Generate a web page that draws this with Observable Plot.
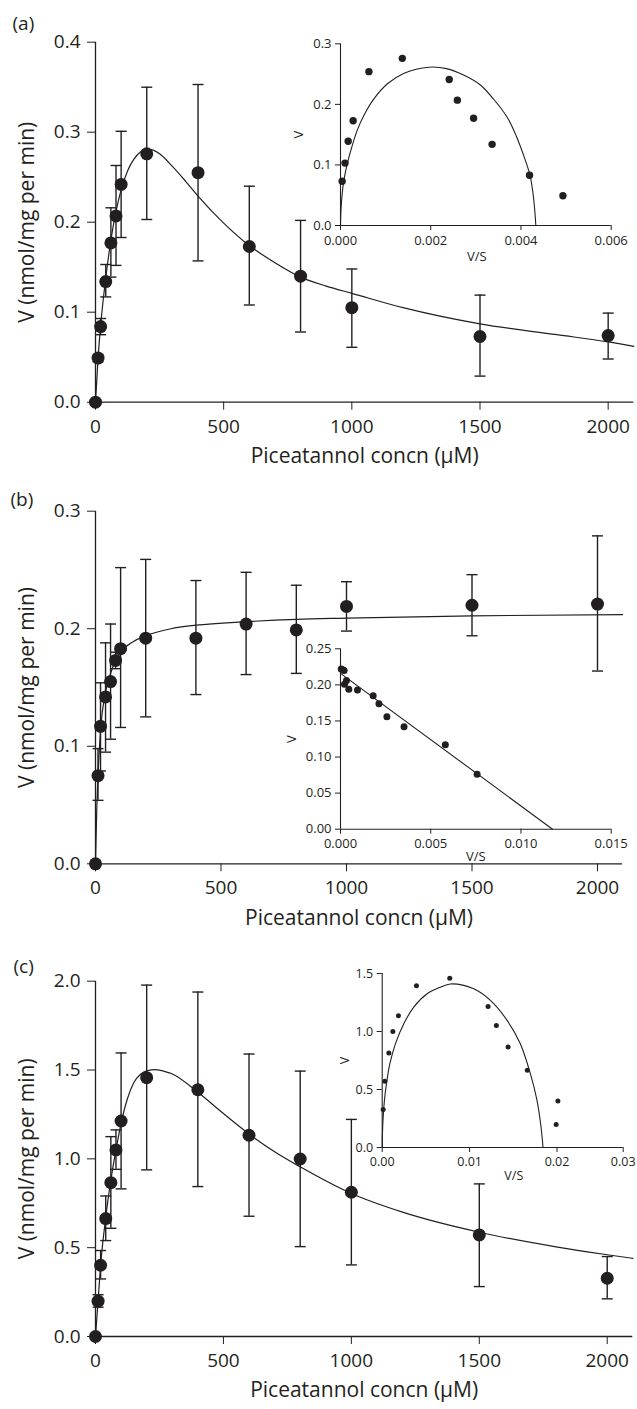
<!DOCTYPE html>
<html><head><meta charset="utf-8">
<script src="https://cdn.jsdelivr.net/npm/d3@7"></script>
<script src="https://cdn.jsdelivr.net/npm/@observablehq/plot@0.6"></script>
<style>
html,body{margin:0;padding:0;background:#fff;}
#root{position:relative;width:637px;height:1409px;overflow:hidden;}
#root > svg{position:absolute;left:0;background:transparent !important;}
</style></head><body><div id="root"></div>
<script>
// ---------- data ----------
const xTicksMain = [0, 500, 1000, 1500, 2000];
const xLabel = "Piceatannol concn (μM)";
const yLabel = "V (nmol/mg per min)";
const panelTags = ["(a)", "(b)", "(c)"];

const conc = [0, 10, 20, 40, 60, 80, 100, 200, 400, 600, 800, 1000, 1500, 2000];

// panel (a)
const vA  = [0, 0.049, 0.084, 0.134, 0.177, 0.207, 0.242, 0.276, 0.255, 0.173, 0.140, 0.105, 0.073, 0.074];
const loA = [null, 0.045, 0.075, 0.117, 0.139, 0.152, 0.183, 0.203, 0.157, 0.108, 0.078, 0.061, 0.029, 0.048];
const hiA = [null, 0.053, 0.093, 0.153, 0.216, 0.263, 0.301, 0.350, 0.353, 0.240, 0.202, 0.148, 0.119, 0.099];
const fitAconc = [0, 10, 20, 40, 60, 80, 100, 125, 150, 175, 200, 225, 250, 300, 350, 400, 500, 600, 700, 800, 900, 1000, 1200, 1500, 1800, 2000, 2100];
const fitAv    = [0, 0.049, 0.085, 0.138, 0.180, 0.212, 0.236, 0.257, 0.270, 0.278, 0.281, 0.280, 0.276, 0.262, 0.246, 0.229, 0.199, 0.174, 0.155, 0.139, 0.129, 0.121, 0.105, 0.087, 0.075, 0.067, 0.062];
const yTicksA = [0, 0.1, 0.2, 0.3, 0.4];

// panel (b)
const vB  = [0, 0.075, 0.117, 0.142, 0.155, 0.173, 0.183, 0.192, 0.192, 0.204, 0.199, 0.219, 0.220, 0.221];
const loB = [null, 0.054, 0.079, 0.095, 0.106, 0.166, 0.116, 0.125, 0.144, 0.161, 0.162, 0.198, 0.194, 0.164];
const hiB = [null, 0.098, 0.154, 0.188, 0.204, 0.180, 0.252, 0.259, 0.241, 0.248, 0.237, 0.240, 0.246, 0.279];
const fitBconc = [0, 5, 10, 20, 40, 60, 80, 100, 150, 200, 300, 400, 600, 800, 1000, 1500, 2100];
const fitBv    = [0, 0.046, 0.075, 0.113, 0.146, 0.162, 0.173, 0.180, 0.189, 0.194, 0.200, 0.203, 0.206, 0.208, 0.209, 0.211, 0.212];
const yTicksB = [0, 0.1, 0.2, 0.3];

// panel (c)
const vC  = [0, 0.199, 0.401, 0.664, 0.866, 1.050, 1.213, 1.457, 1.389, 1.133, 0.999, 0.812, 0.572, 0.328];
const loC = [null, 0.165, 0.324, 0.540, 0.609, 0.941, 0.831, 0.938, 0.844, 0.677, 0.506, 0.403, 0.281, 0.212];
const hiC = [null, 0.235, 0.484, 0.791, 1.125, 1.163, 1.596, 1.978, 1.939, 1.590, 1.494, 1.222, 0.859, 0.450];
const fitCconc = [0, 10, 20, 40, 60, 80, 100, 125, 150, 175, 200, 235, 275, 300, 400, 500, 600, 700, 800, 1000, 1200, 1500, 1800, 2000, 2100];
const fitCv    = [0, 0.20, 0.40, 0.67, 0.88, 1.05, 1.20, 1.34, 1.43, 1.475, 1.495, 1.502, 1.49, 1.478, 1.375, 1.255, 1.14, 1.04, 0.955, 0.805, 0.70, 0.587, 0.505, 0.46, 0.44];
const yTicksC = [0, 0.5, 1.0, 1.5, 2.0];

// inset (a): V vs V/S
const insAvs = [0.000037, 0.0001, 0.00017, 0.00028, 0.00063, 0.00137, 0.00241, 0.00259, 0.00295, 0.00336, 0.00419, 0.00493];
const insAv  = [0.073, 0.103, 0.139, 0.173, 0.254, 0.276, 0.241, 0.207, 0.177, 0.134, 0.083, 0.049];
const insAfitVs = [0, 0.00001, 0.000037, 0.000074, 0.00015, 0.00026, 0.00037, 0.00052, 0.00074, 0.00104, 0.00141, 0.00196, 0.00235, 0.00274, 0.0031, 0.0034, 0.0037, 0.0039, 0.0041, 0.0042, 0.00428, 0.00433];
const insAfitV  = [0, 0.025, 0.052, 0.074, 0.102, 0.132, 0.157, 0.182, 0.209, 0.234, 0.2515, 0.2614, 0.259, 0.248, 0.232, 0.208, 0.178, 0.147, 0.107, 0.083, 0.045, 0];
const insAxTicks = [0, 0.002, 0.004, 0.006];
const insAyTicks = [0, 0.1, 0.2, 0.3];

// inset (b)
const insBvs = [0.00004, 0.00012, 0.0002, 0.00022, 0.00033, 0.00046, 0.00094, 0.00181, 0.00213, 0.00257, 0.00352, 0.00581, 0.00757];
const insBv  = [0.222, 0.221, 0.220, 0.201, 0.206, 0.194, 0.193, 0.185, 0.174, 0.156, 0.142, 0.117, 0.076];
const insBfitVs = [0, 0.01175];
const insBfitV  = [0.216, 0];
const insBxTicks = [0, 0.005, 0.010, 0.015];
const insByTicks = [0, 0.05, 0.10, 0.15, 0.20, 0.25];

// inset (c) (its last axis tick, labelled 0.03, sits at the end of the drawn axis)
const insCvs = [0.00011, 0.0003, 0.00076, 0.00122, 0.00186, 0.00392, 0.00773, 0.01211, 0.01306, 0.0144, 0.0166, 0.0201, 0.0199];
const insCv  = [0.327, 0.571, 0.814, 1.001, 1.136, 1.394, 1.46, 1.216, 1.052, 0.866, 0.665, 0.401, 0.198];
const insCfitVs = [0, 0.00003, 0.00011, 0.00026, 0.00049, 0.00087, 0.00152, 0.00247, 0.00361, 0.00514, 0.00666, 0.0078, 0.01047, 0.01238, 0.01429, 0.0158, 0.01695, 0.01771, 0.01817, 0.0184];
const insCfitV  = [0, 0.12, 0.26, 0.41, 0.55, 0.72, 0.895, 1.067, 1.21, 1.325, 1.382, 1.41, 1.368, 1.268, 1.096, 0.895, 0.637, 0.407, 0.177, 0];
const insCxMax = 0.02757;
const insCxTicks = [0, 0.01, 0.02, insCxMax];
const insCxTickLabels = ["0.00", "0.01", "0.02", "0.03"];
const insCyTicks = [0, 0.5, 1.0, 1.5];

// ---------- drawing ----------
const INK = "#231f20";
const FONT = "'Open Sans', 'Noto Sans', 'DejaVu Sans', sans-serif";
const W = 637;
const root = document.getElementById("root");
const hline = {draw(ctx, size) { const w = Math.sqrt(size / Math.PI); ctx.moveTo(-w, 0); ctx.lineTo(w, 0); }};

function mainPanel(o) {
  const pts = conc.map((c, i) => ({x: c, v: o.v[i], lo: o.lo[i], hi: o.hi[i]}));
  const err = pts.filter(d => d.lo != null);
  const fit = o.fx.map((c, i) => ({x: c, y: o.fy[i]}));
  const svg = Plot.plot({
    width: W, height: o.height,
    marginTop: o.mt, marginBottom: o.mb, marginLeft: 95, marginRight: o.mr,
    style: {background: "transparent", fontFamily: FONT, fontSize: "19px", color: INK, overflow: "visible"},
    x: {domain: [0, 2100], ticks: xTicksMain, tickSize: 8, tickPadding: 9, tickFormat: d => String(d), label: null},
    y: {domain: o.yDomain, ticks: o.yTicks, tickSize: 8, tickPadding: 7, tickFormat: d3.format(".1f"), label: null},
    marks: [
      Plot.ruleY([0], {stroke: INK, strokeWidth: 1.3}),
      Plot.ruleX([0], {stroke: INK, strokeWidth: 1.3}),
      Plot.line(fit, {x: "x", y: "y", curve: "monotone-x", stroke: INK, strokeWidth: 1.2}),
      Plot.ruleX(err, {x: "x", y1: "lo", y2: "hi", stroke: INK, strokeWidth: 1.4}),
      Plot.dot(err, {x: "x", y: "lo", symbol: hline, r: 5.5, stroke: INK, fill: "none", strokeWidth: 1.4}),
      Plot.dot(err, {x: "x", y: "hi", symbol: hline, r: 5.5, stroke: INK, fill: "none", strokeWidth: 1.4}),
      Plot.dot(pts, {x: "x", y: "v", r: 6.5, fill: INK, stroke: null}),
      Plot.text([xLabel], {frameAnchor: "bottom", dy: 54, textAnchor: "middle", lineAnchor: "middle", fontSize: 21, fill: INK}),
      Plot.text([yLabel], {frameAnchor: "left", dx: -68, rotate: -90, textAnchor: "middle", lineAnchor: "middle", fontSize: 21, fill: INK}),
      Plot.text([o.tag], {frameAnchor: "top-left", dx: o.tagDx, dy: o.tagDy, textAnchor: "start", lineAnchor: "middle", fontSize: 19, fill: INK})
    ]
  });
  svg.style.top = o.top + "px";
  root.appendChild(svg);
}

function insetPanel(o) {
  const pts = o.px.map((x, i) => ({x, y: o.py[i]}));
  const fit = o.fx.map((x, i) => ({x, y: o.fy[i]}));
  const svg = Plot.plot({
    width: W, height: o.height,
    marginTop: o.mt, marginBottom: o.mb, marginLeft: o.ml, marginRight: o.mr,
    style: {background: "transparent", fontFamily: FONT, fontSize: o.fs + "px", color: INK, overflow: "visible"},
    x: {domain: o.xDomain, ticks: o.xTicks, tickSize: 5, tickPadding: 5, tickFormat: o.xFmt, label: null},
    y: {domain: o.yDomain, ticks: o.yTicks, tickSize: 5, tickPadding: 4, tickFormat: d3.format(o.yFmt), label: null},
    marks: [
      Plot.ruleY([0], {stroke: INK, strokeWidth: 1.1}),
      Plot.ruleX([0], {stroke: INK, strokeWidth: 1.1}),
      Plot.line(fit, {x: "x", y: "y", curve: o.curve, stroke: INK, strokeWidth: 1.1}),
      Plot.dot(pts, {x: "x", y: "y", r: o.r, fill: INK, stroke: null}),
      Plot.text(["V/S"], {frameAnchor: "bottom", dx: o.vsDx, dy: o.vsDy, textAnchor: "middle", lineAnchor: "middle", fontSize: o.fs, fill: INK}),
      Plot.text(["V"], {frameAnchor: "left", dx: o.vDx, rotate: -90, textAnchor: "middle", lineAnchor: "middle", fontSize: o.fs, fill: INK})
    ]
  });
  svg.style.top = o.top + "px";
  root.appendChild(svg);
}

mainPanel({top: 0, height: 470, mt: 41.7, mb: 68.3, mr: 3.7, yDomain: [0, 0.4], yTicks: yTicksA,
  v: vA, lo: loA, hi: hiA, fx: fitAconc, fy: fitAv, tag: panelTags[0], tagDx: -83, tagDy: -18});
mainPanel({top: 460, height: 460, mt: 50.7, mb: 56.7, mr: 14.9, yDomain: [0, 0.3], yTicks: yTicksB,
  v: vB, lo: loB, hi: hiB, fx: fitBconc, fy: fitBv, tag: panelTags[1], tagDx: -85, tagDy: -11});
mainPanel({top: 915, height: 494, mt: 65.7, mb: 73, mr: 4.7, yDomain: [0, 2.0], yTicks: yTicksC,
  v: vC, lo: loC, hi: hiC, fx: fitCconc, fy: fitCv, tag: panelTags[2], tagDx: -82, tagDy: -14});

insetPanel({top: 0, height: 280, mt: 43.3, mb: 55, ml: 340, mr: 26.3, fs: 13,
  xDomain: [0, 0.006], xTicks: insAxTicks, xFmt: d3.format(".3f"), yDomain: [0, 0.3], yTicks: insAyTicks, yFmt: ".1f",
  px: insAvs, py: insAv, fx: insAfitVs, fy: insAfitV, curve: "catmull-rom", r: 3.7, vsDx: 1, vsDy: 31.7, vDx: -42});
insetPanel({top: 620, height: 260, mt: 28.3, mb: 51.3, ml: 340, mr: 26.3, fs: 13,
  xDomain: [0, 0.015], xTicks: insBxTicks, xFmt: d3.format(".3f"), yDomain: [0, 0.25], yTicks: insByTicks, yFmt: ".2f",
  px: insBvs, py: insBv, fx: insBfitVs, fy: insBfitV, curve: "linear", r: 3.5, vsDx: 0, vsDy: 27.5, vDx: -49});
insetPanel({top: 950, height: 240, mt: 23, mb: 43, ml: 381.7, mr: 14.3, fs: 12.5,
  xDomain: [0, insCxMax], xTicks: insCxTicks, xFmt: d => insCxTickLabels[insCxTicks.indexOf(d)],
  yDomain: [0, 1.5], yTicks: insCyTicks, yFmt: ".1f",
  px: insCvs, py: insCv, fx: insCfitVs, fy: insCfitV, curve: "catmull-rom", r: 2.5, vsDx: 11.1, vsDy: 28, vDx: -37});
</script></body></html>
